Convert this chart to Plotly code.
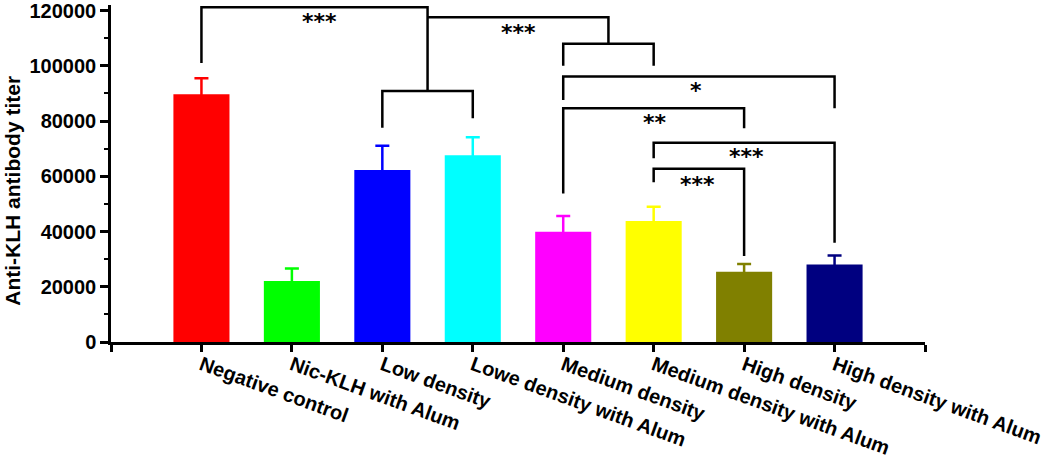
import plotly.graph_objects as go

# ---- data ----
categories = ["Negative control", "Nic-KLH with Alum", "Low density",
              "Lowe density with Alum", "Medium density",
              "Medium density with Alum", "High density",
              "High density with Alum"]
values = [89700, 22100, 62250, 67600, 39900, 43800, 25400, 28100]
errors = [5800, 4500, 8800, 6500, 5700, 5200, 2800, 3250]
bar_colors = ["#FF0000", "#00FF00", "#0000FF", "#00FFFF",
              "#FF00FF", "#FFFF00", "#808000", "#000080"]

y_ticks = [0, 20000, 40000, 60000, 80000, 100000, 120000]

# significance brackets: polylines in (category index, titer) units
brackets = [
    [(0, 101000), (0, 121200), (2.5, 121200), (2.5, 90900)],
    [(2, 77600), (2, 90900), (3, 90900), (3, 81000)],
    [(2.5, 117600), (4.5, 117600), (4.5, 108000)],
    [(4, 100000), (4, 108000), (5, 108000), (5, 100000)],
    [(4, 87600), (4, 96100), (7, 96100), (7, 84600)],
    [(4, 53800), (4, 84600), (6, 84600), (6, 77400)],
    [(5, 66500), (5, 72150), (7, 72150), (7, 35900)],
    [(5, 57800), (5, 62700), (6, 62700), (6, 31100)],
]
sig_labels = ["***", "***", "*", "**", "***", "***"]
sig_x = [1.3, 3.5, 5.47, 5.02, 6.03, 5.48]
sig_y = [117000, 113300, 92100, 80600, 68300, 58000]

# ---- figure ----
fig = go.Figure()
for i, (v, e, col) in enumerate(zip(values, errors, bar_colors)):
    fig.add_trace(go.Bar(
        x=[i], y=[v], width=0.62,
        marker=dict(color=col, line=dict(width=0)),
        error_y=dict(type="data", symmetric=True, array=[e],
                     color=col, thickness=2.5, width=7),
        showlegend=False, hoverinfo="skip"))

for br in brackets:
    fig.add_trace(go.Scatter(
        x=[p[0] for p in br], y=[p[1] for p in br], mode="lines",
        line=dict(color="black", width=2.5), showlegend=False,
        hoverinfo="skip"))

for t, xx, yy in zip(sig_labels, sig_x, sig_y):
    fig.add_annotation(x=xx, y=yy, text=t, showarrow=False,
                       font=dict(family="DejaVu Sans", size=22, color="black",
                                 weight="bold"),
                       xanchor="center", yanchor="middle", yshift=-3)

fig.add_annotation(xref="paper", yref="paper", x=-0.122, y=0.448,
                   text="Anti-KLH antibody titer", textangle=-90,
                   showarrow=False, xanchor="center", yanchor="middle",
                   font=dict(family="Liberation Sans", size=21,
                             color="black", weight="bold"))

tick_font = dict(family="Liberation Sans", size=20, color="black", weight="bold")

fig.update_layout(
    width=1050, height=466,
    barmode="overlay",
    plot_bgcolor="white", paper_bgcolor="white",
    margin=dict(l=111, r=125, t=5, b=124, autoexpand=False),
    xaxis=dict(
        range=[-1, 8],
        tickmode="array",
        tickvals=[-1] + list(range(len(categories))) + [8],
        ticktext=[""] + categories + [""],
        tickangle=20,
        ticks="outside", ticklen=7, tickwidth=2.5, tickcolor="black",
        showline=True, linewidth=2.5, linecolor="black",
        showgrid=False, zeroline=False,
        tickfont=tick_font, automargin=False,
        ticklabelstandoff=-6, ticklabeloverflow="allow",
    ),
    yaxis=dict(
        range=[0, 122000],
        tickmode="array", tickvals=y_ticks, tickformat="d",
        ticks="outside", ticklen=8, tickwidth=2.5, tickcolor="black",
        minor=dict(tickmode="array",
                   tickvals=[t + 10000 for t in y_ticks[:-1]],
                   ticks="outside", ticklen=4, tickwidth=2, tickcolor="black"),
        showline=True, linewidth=2.5, linecolor="black",
        showgrid=False, zeroline=False,
        tickfont=tick_font, automargin=False,
        ticklabeloverflow="allow",
    ),
)

fig.write_html("out.html", config={"displayModeBar": False},
               post_script="document.body.style.margin='0';")
